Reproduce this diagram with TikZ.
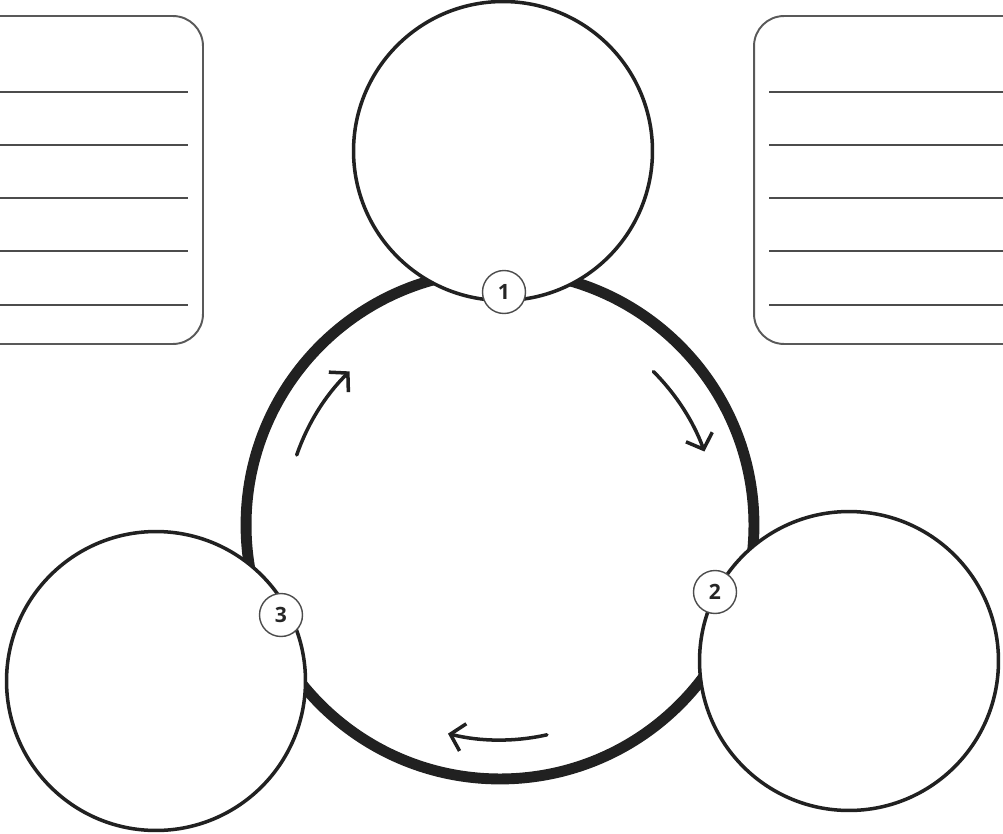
\documentclass[tikz,border=0pt]{standalone}
\usepackage{fontspec}
\setsansfont{Open Sans}
\usepackage{tikz}
\usetikzlibrary{arrows.meta,calc}

\begin{document}
\begin{tikzpicture}[x=0.02cm, y=0.02cm,
    ring/.style={circle, draw=black!87, line width=2pt, fill=white, minimum size=5.98cm, inner sep=0pt},
    cyclering/.style={circle, draw=black!87, line width=6.2pt, minimum size=10.16cm, inner sep=0pt},
    badge/.style={circle, draw=black!70, line width=0.8pt, fill=white, minimum size=0.86cm, inner sep=0pt,
        font=\sffamily\bfseries\fontsize{12}{12}\selectfont, text=black!85},
    notebox/.style={rectangle, rounded corners=0.6cm, draw=black!65, line width=1.1pt, minimum height=6.56cm},
    rule/.style={draw=black!70, line width=0.9pt},
    turn/.style={draw=black!87, line width=2pt, line cap=round, -{Straight Barb[length=2.6mm, width=5.6mm]}}]

    \useasboundingbox (0,0) rectangle (1003,833);
    \clip (0,0) rectangle (1003,833);

    % note boxes
    \node[notebox, minimum width=4.66cm] (leftbox) at (86.5,653) {};
    \node[notebox, minimum width=5.72cm] (rightbox) at (897,653) {};
    \foreach \y in {741,688,635,582,528} {
        \draw[rule] (0,\y) -- ($(leftbox.east |- 0,\y)+(-16,0)$);
        \draw[rule] ($(rightbox.west |- 0,\y)+(16,0)$) -- (1003,\y);
    }

    % cycle
    \node[cyclering] (cycle) at (500,308) {};
    \draw[turn] (cycle.center) ++(161:215) arc[start angle=161, end angle=134.4, radius=215];
    \draw[turn] (cycle.center) ++(45:217) arc[start angle=45, end angle=20, radius=219];
    \draw[turn] (cycle.center) ++(-77.4:215) arc[start angle=-77.4, end angle=-104, radius=215];

    % stages
    \node[ring] (ringtop) at (503,682) {};
    \node[ring] (ringright) at (849,172) {};
    \node[ring] (ringleft) at (156,152) {};

    \node[badge] (one) at (504,541) {1};
    \node[badge] (two) at (715,241) {2};
    \node[badge] (three) at (281,218) {3};
\end{tikzpicture}
\end{document}
